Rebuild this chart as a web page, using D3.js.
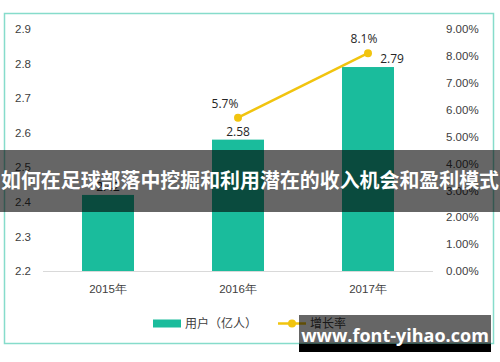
<!DOCTYPE html>
<html>
<head>
<meta charset="utf-8">
<script src="https://cdn.jsdelivr.net/npm/d3@7"></script>
<style>
  html, body { margin: 0; padding: 0; background: #fff; }
  svg { display: block; font-family: "Open Sans", "Noto Sans CJK SC", sans-serif; }
</style>
</head>
<body>
<div id="chart"></div>
<script>
// Chart data
const years = ['2015年', '2016年', '2017年'];
const users = [2.42, 2.58, 2.79];
const growth = [null, 5.7, 8.1];
const leftTicks = [2.2, 2.3, 2.4, 2.5, 2.6, 2.7, 2.8, 2.9];
const rightTicks = [0, 1, 2, 3, 4, 5, 6, 7, 8, 9];
const bannerText = '如何在足球部落中挖掘和利用潜在的收入机会和盈利模式';
const watermarkText = 'www.font-yihao.com';

const width = 500, height = 362;
const teal = '#1abc9c', gold = '#f1c40f';

const svg = d3.select('#chart').append('svg')
    .attr('width', width)
    .attr('height', height);

// outer frame
svg.append('rect')
    .attr('x', 4.5).attr('y', 13.5)
    .attr('width', 489).attr('height', 330)
    .attr('fill', 'none')
    .attr('stroke', '#86dccb')
    .attr('stroke-width', 1.5);

// Scales
const x = d3.scaleBand().domain(years).range([43, 433]).paddingInner(0.6).paddingOuter(0.3);
const yL = d3.scaleLinear().domain([2.2, 2.9]).range([271, 29]);
const yR = d3.scaleLinear().domain([0, 9]).range([271, 29]);

// Left axis
const leftAxis = svg.append('g')
    .attr('transform', 'translate(31,0)')
    .call(d3.axisLeft(yL).tickValues(leftTicks).tickFormat(d3.format('.1f')).tickSize(0).tickPadding(0));
leftAxis.select('.domain').remove();
leftAxis.selectAll('text')
    .attr('font-size', 11.5).attr('fill', '#404040');

// Right axis
const rightAxis = svg.append('g')
    .attr('transform', 'translate(446,0)')
    .call(d3.axisRight(yR).tickValues(rightTicks).tickFormat(d => d.toFixed(2) + '%').tickSize(0).tickPadding(0));
rightAxis.select('.domain').remove();
rightAxis.selectAll('text')
    .attr('font-size', 11.5).attr('fill', '#404040');

// Bars
svg.append('g').selectAll('rect')
    .data(users)
    .join('rect')
    .attr('x', (d, i) => x(years[i]))
    .attr('y', d => yL(d))
    .attr('width', x.bandwidth())
    .attr('height', d => yL(2.2) - yL(d))
    .attr('fill', teal);

// Baseline
svg.append('line')
    .attr('x1', 43).attr('x2', 433)
    .attr('y1', yL(2.2) + 0.5).attr('y2', yL(2.2) + 0.5)
    .attr('stroke', '#d9d9d9');

// Category axis labels
const bottomAxis = svg.append('g')
    .attr('transform', `translate(0,${yL(2.2)})`)
    .call(d3.axisBottom(x).tickSize(0).tickPadding(14));
bottomAxis.select('.domain').remove();
bottomAxis.selectAll('text')
    .attr('font-size', 11.5).attr('fill', '#404040');

// Bar value labels
const barLabelDx = [0, 0, 24];
svg.append('g').selectAll('text')
    .data(users)
    .join('text')
    .attr('x', (d, i) => x(years[i]) + x.bandwidth() / 2 + barLabelDx[i])
    .attr('y', d => yL(d) - 4)
    .attr('text-anchor', 'middle')
    .attr('font-size', 12).attr('fill', '#262626')
    .text(d => d.toFixed(2));

// Growth line
const pts = growth.map((g, i) => ({ g, cat: years[i] })).filter(p => p.g != null);
const line = d3.line()
    .x(p => x(p.cat) + x.bandwidth() / 2)
    .y(p => yR(p.g));
svg.append('path')
    .datum(pts)
    .attr('d', line)
    .attr('fill', 'none')
    .attr('stroke', gold)
    .attr('stroke-width', 2.5);
svg.append('g').selectAll('circle')
    .data(pts)
    .join('circle')
    .attr('cx', p => x(p.cat) + x.bandwidth() / 2)
    .attr('cy', p => yR(p.g))
    .attr('r', 4)
    .attr('fill', gold);
const growthDx = [-13, -4];
svg.append('g').selectAll('text')
    .data(pts)
    .join('text')
    .attr('x', (p, i) => x(p.cat) + x.bandwidth() / 2 + growthDx[i])
    .attr('y', p => yR(p.g) - 10)
    .attr('text-anchor', 'middle')
    .attr('font-size', 12).attr('fill', '#262626')
    .text(p => p.g.toFixed(1) + '%');

// Legend
const legend = svg.append('g');
legend.append('rect')
    .attr('x', 153).attr('y', 319.5).attr('width', 28).attr('height', 8)
    .attr('fill', teal);
legend.append('text')
    .attr('x', 185).attr('y', 328)
    .attr('font-size', 12).attr('fill', '#404040')
    .text('用户（亿人）');
legend.append('line')
    .attr('x1', 278).attr('x2', 306).attr('y1', 323.5).attr('y2', 323.5)
    .attr('stroke', gold).attr('stroke-width', 2.5);
legend.append('circle')
    .attr('cx', 292).attr('cy', 323.5).attr('r', 4)
    .attr('fill', gold);
legend.append('text')
    .attr('x', 310).attr('y', 328)
    .attr('font-size', 12).attr('fill', '#404040')
    .text('增长率');

// Title banner overlay
svg.append('rect')
    .attr('x', 0).attr('y', 150).attr('width', width).attr('height', 62)
    .attr('fill', '#000').attr('fill-opacity', 0.6);
svg.append('text')
    .attr('x', width / 2).attr('y', 188)
    .attr('text-anchor', 'middle')
    .attr('font-family', '"Noto Sans CJK SC", sans-serif')
    .attr('font-size', 20).attr('font-weight', 'bold')
    .attr('fill', '#fff')
    .attr('textLength', 498).attr('lengthAdjust', 'spacingAndGlyphs')
    .text(bannerText);

// Watermark
svg.append('rect')
    .attr('x', 299).attr('y', 315).attr('width', 192).attr('height', 30)
    .attr('fill', '#000').attr('fill-opacity', 0.6);
svg.append('rect')
    .attr('x', 299).attr('y', 344).attr('width', 192).attr('height', 8)
    .attr('fill', '#000');
svg.append('text')
    .attr('x', 395).attr('y', 342)
    .attr('text-anchor', 'middle')
    .attr('font-family', '"Open Sans", sans-serif')
    .attr('font-size', 18).attr('font-weight', 'bold')
    .attr('fill', '#fff')
    .text(watermarkText);
</script>
</body>
</html>
